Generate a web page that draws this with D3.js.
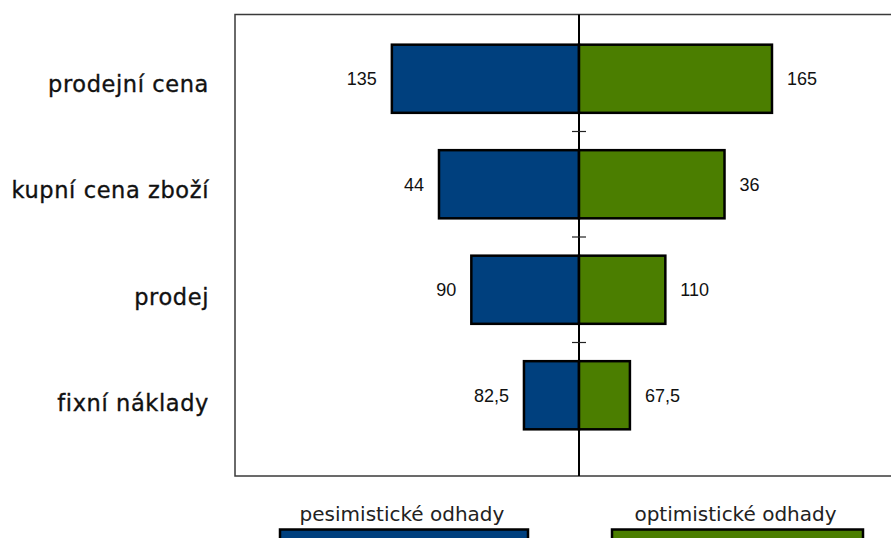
<!DOCTYPE html>
<html>
<head>
<meta charset="utf-8">
<script src="https://cdn.jsdelivr.net/npm/d3@7"></script>
<style>
  html, body { margin: 0; padding: 0; background: #fff; }
  svg { display: block; }
</style>
</head>
<body>
<svg id="chart" width="891" height="538"></svg>
<script>
// Sensitivity of the result to each input (pessimistic vs optimistic estimate)
const categories = ["prodejní cena", "kupní cena zboží", "prodej", "fixní náklady"];
const pessimisticImpact = [54.4, 40.7, 31.3, 16.0];
const optimisticImpact  = [56.1, 42.3, 25.1, 14.8];
// Input values used for each scenario (printed beside the bars)
const pessimisticInput = [135, 44, 90, 82.5];
const optimisticInput  = [165, 36, 110, 67.5];
const seriesNames = ["pesimistické odhady", "optimistické odhady"];
const xDomain = [-100, 100];

const colors = { pess: "#00407e", opt: "#4b7e00" };

const svg = d3.select("#chart");
const frame = { left: 235, top: 14.5, right: 923, bottom: 476 };

const x = d3.scaleLinear().domain(xDomain).range([frame.left, frame.right]);
const y = d3.scaleBand().domain(categories)
  .range([26, 448]).paddingInner(0.354).paddingOuter(0.177);
const labelY = d3.scalePoint().domain(categories).range([92, 411]);

const fmt = v => String(v).replace(".", ",");

// plot frame
svg.append("rect")
  .attr("x", frame.left).attr("y", frame.top)
  .attr("width", frame.right - frame.left).attr("height", frame.bottom - frame.top)
  .attr("fill", "none").attr("stroke", "#3a3a3a").attr("stroke-width", 1.5);

const rows = categories.map((c, i) => ({
  cat: c, pess: pessimisticImpact[i], opt: optimisticImpact[i],
  pIn: pessimisticInput[i], oIn: optimisticInput[i]
}));

const bw = y.bandwidth();

// pessimistic bars (left of the base value)
svg.append("g").selectAll("rect").data(rows).join("rect")
  .attr("x", d => x(-d.pess)).attr("y", d => y(d.cat))
  .attr("width", d => x(0) - x(-d.pess)).attr("height", bw)
  .attr("fill", colors.pess).attr("stroke", "#000").attr("stroke-width", 2.5);

// optimistic bars (right of the base value)
svg.append("g").selectAll("rect").data(rows).join("rect")
  .attr("x", x(0)).attr("y", d => y(d.cat))
  .attr("width", d => x(d.opt) - x(0)).attr("height", bw)
  .attr("fill", colors.opt).attr("stroke", "#000").attr("stroke-width", 2.5);

// centre line with separators between categories
svg.append("line")
  .attr("x1", x(0)).attr("x2", x(0))
  .attr("y1", frame.top).attr("y2", frame.bottom)
  .attr("stroke", "#000").attr("stroke-width", 2);

const seps = categories.slice(0, -1).map((c, i) =>
  (y(c) + bw + y(categories[i + 1])) / 2);
svg.append("g").selectAll("line").data(seps).join("line")
  .attr("x1", x(0) - 7).attr("x2", x(0) + 7)
  .attr("y1", d => d).attr("y2", d => d)
  .attr("stroke", "#222").attr("stroke-width", 1.2);

// scenario input values
const valFont = "'Liberation Sans', Arial, sans-serif";
svg.append("g").selectAll("text").data(rows).join("text")
  .attr("x", d => x(-d.pess) - 15).attr("y", d => y(d.cat) + bw / 2)
  .attr("dy", "0.35em").attr("text-anchor", "end")
  .attr("font-family", valFont).attr("font-size", 18).attr("fill", "#111")
  .text(d => fmt(d.pIn));
svg.append("g").selectAll("text").data(rows).join("text")
  .attr("x", d => x(d.opt) + 15).attr("y", d => y(d.cat) + bw / 2)
  .attr("dy", "0.35em").attr("text-anchor", "start")
  .attr("font-family", valFont).attr("font-size", 18).attr("fill", "#111")
  .text(d => fmt(d.oIn));

// category labels
svg.append("g").selectAll("text").data(categories).join("text")
  .attr("x", 209).attr("y", d => labelY(d))
  .attr("text-anchor", "end")
  .attr("font-family", "'DejaVu Sans', Verdana, sans-serif")
  .attr("font-size", 22.5).attr("letter-spacing", 0.6)
  .attr("fill", "#111").attr("stroke", "#111").attr("stroke-width", 0.35)
  .text(d => d);

// legend
const legend = [
  { name: seriesNames[0], color: colors.pess, x0: 280, x1: 528 },
  { name: seriesNames[1], color: colors.opt, x0: 612, x1: 863 }
];
const lg = svg.append("g").selectAll("g").data(legend).join("g");
lg.append("rect")
  .attr("x", d => d.x0).attr("y", 529.5)
  .attr("width", d => d.x1 - d.x0).attr("height", 30)
  .attr("fill", d => d.color).attr("stroke", "#000").attr("stroke-width", 2.5);
lg.append("text")
  .attr("x", d => (d.x0 + d.x1) / 2 - 2).attr("y", 521)
  .attr("text-anchor", "middle")
  .attr("font-family", "'DejaVu Sans', Verdana, sans-serif")
  .attr("font-size", 20).attr("fill", "#222")
  .text(d => d.name);
</script>
</body>
</html>
